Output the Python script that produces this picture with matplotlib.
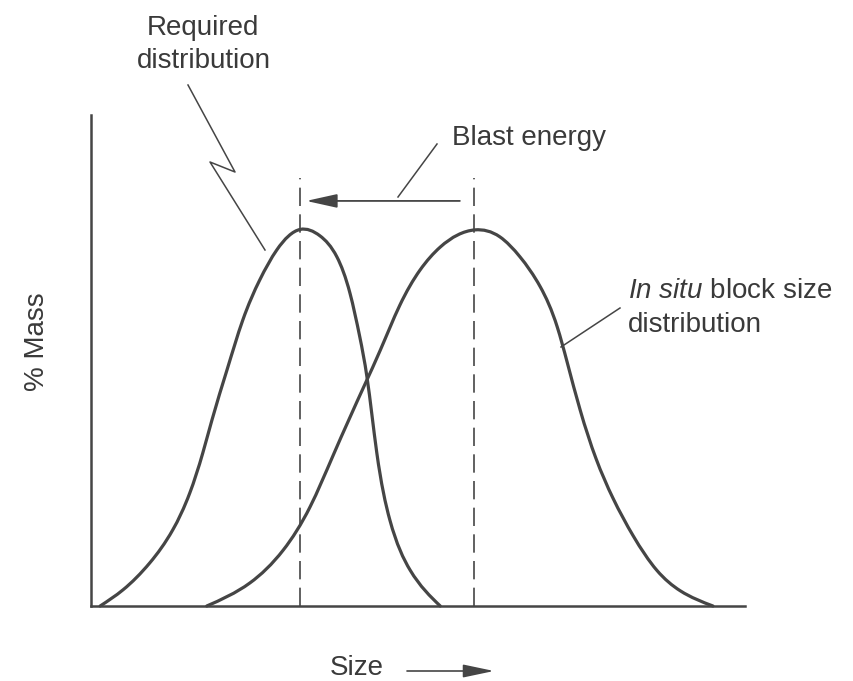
import matplotlib
matplotlib.use("Agg")
import matplotlib.pyplot as plt
from matplotlib.path import Path
from matplotlib.patches import PathPatch, FancyArrowPatch
import numpy as np

# ---------------- data (size units 0-100, % mass units 0-100) ----------------
req_size = [1.4, 4.9, 9.0, 12.5, 15.1, 17.1, 18.5, 20.8, 23.2, 25.8, 28.4, 32.0,
            35.0, 37.6, 39.6, 41.1, 42.2, 43.7, 45.7, 48.8, 53.4]
req_mass = [0.0, 3.3, 8.8, 15.5, 23.0, 31.2, 37.9, 48.1, 58.2, 66.4, 72.5, 76.7,
            75.4, 71.1, 63.7, 54.8, 46.6, 31.2, 17.5, 7.3, 0.0]

insitu_size = [17.7, 24.3, 29.4, 33.5, 37.0, 41.9, 44.2, 47.2, 50.3, 53.4, 58.7,
               62.5, 65.6, 68.7, 71.3, 72.8, 74.8, 77.2, 79.8, 82.9, 86.5,
               90.1, 95.1]
insitu_mass = [0.0, 4.7, 11.4, 20.2, 30.6, 45.2, 52.0, 61.2, 68.4, 73.1, 76.6,
               75.2, 71.1, 65.0, 56.8, 49.7, 39.9, 30.1, 22.0, 14.3, 7.3,
               3.1, 0.0]

peak_sizes = [32.0, 58.6]          # dashed modal-size markers
dash_top = 87.2
blast_arrow_y = 82.5
blast_from, blast_to = 56.4, 32.9

# ---------------- styling ----------------
W, H = 854, 681
INK = "#454545"
TXT = "#3a3a3a"
plt.rcParams["font.family"] = ["Liberation Sans", "DejaVu Sans"]
plt.rcParams["mathtext.fontset"] = "custom"
plt.rcParams["mathtext.it"] = "Liberation Sans:italic"
plt.rcParams["mathtext.rm"] = "Liberation Sans"

fig = plt.figure(figsize=(W / 100, H / 100), dpi=100)


def fx(px):
    return px / W


def fy(py):
    return 1 - py / H


# plot area (pixels): left 91, right 745, top 115, bottom 606
ax = fig.add_axes([fx(91), fy(606), (745 - 91) / W, (606 - 115) / H])
ax.set_xlim(0, 100)
ax.set_ylim(0, 100)
ax.set_xticks([])
ax.set_yticks([])
for s in ["top", "right"]:
    ax.spines[s].set_visible(False)
for s in ["left", "bottom"]:
    ax.spines[s].set_color(INK)
    ax.spines[s].set_linewidth(1.8)


def spline_path(xs, ys):
    """Natural cubic spline through the points, drawn as Bezier segments."""
    x = np.asarray(xs, float)
    y = np.asarray(ys, float)
    n = len(x)
    h = np.diff(x)
    A = np.zeros((n, n))
    b = np.zeros(n)
    A[0, 0] = A[-1, -1] = 1.0
    for k in range(1, n - 1):
        A[k, k - 1] = h[k - 1]
        A[k, k] = 2 * (h[k - 1] + h[k])
        A[k, k + 1] = h[k]
        b[k] = 6 * ((y[k + 1] - y[k]) / h[k] - (y[k] - y[k - 1]) / h[k - 1])
    M = np.linalg.solve(A, b)
    verts = [(x[0], y[0])]
    codes = [Path.MOVETO]
    for k in range(n - 1):
        s = (y[k + 1] - y[k]) / h[k]
        m0 = s - h[k] * (2 * M[k] + M[k + 1]) / 6
        m1 = s + h[k] * (M[k] + 2 * M[k + 1]) / 6
        t = h[k] / 3.0
        verts += [(x[k] + t, y[k] + m0 * t),
                  (x[k + 1] - t, y[k + 1] - m1 * t),
                  (x[k + 1], y[k + 1])]
        codes += [Path.CURVE4] * 3
    return Path(verts, codes)


for xs, ys in [(req_size, req_mass), (insitu_size, insitu_mass)]:
    ax.add_patch(PathPatch(spline_path(xs, ys), fill=False, edgecolor=INK,
                           lw=2.3, capstyle="round", joinstyle="round",
                           clip_on=False))

for xp in peak_sizes:
    ax.plot([xp, xp], [0, dash_top], color=INK, lw=1.2, dashes=(11, 5),
            clip_on=False)

# blast energy arrow
ax.annotate("", xy=(blast_to, blast_arrow_y), xytext=(blast_from, blast_arrow_y),
            arrowprops=dict(arrowstyle="-|>,head_length=1.9,head_width=0.42",
                            mutation_scale=10, color=INK, lw=1.3,
                            shrinkA=0, shrinkB=0))

# ---------------- leader lines (figure pixel layout) ----------------
def leader(points):
    xs = [fx(p[0]) for p in points]
    ys = [fy(p[1]) for p in points]
    fig.add_artist(plt.Line2D(xs, ys, transform=fig.transFigure, color=INK,
                              lw=1.1))


leader([(188, 85), (235, 172), (210, 162), (265, 250)])
leader([(398, 197), (437, 144)])
leader([(561, 347), (620, 308)])

# ---------------- texts ----------------
FS = 20
fig.text(fx(203), fy(35), "Required", ha="center", va="baseline",
         fontsize=FS, color=TXT)
fig.text(fx(204), fy(68), "distribution", ha="center", va="baseline",
         fontsize=FS, color=TXT)
fig.text(fx(452), fy(145), "Blast energy", ha="left", va="baseline",
         fontsize=FS, color=TXT)
fig.text(fx(628), fy(298), r"$\mathit{In\ situ}$ block size", ha="left",
         va="baseline", fontsize=FS, color=TXT)
fig.text(fx(628), fy(332), "distribution", ha="left", va="baseline",
         fontsize=FS, color=TXT)
fig.text(fx(37), fy(342), "% Mass", ha="center", va="center", rotation=90,
         fontsize=FS, color=TXT)
fig.text(fx(330), fy(681), "Size", ha="left", va="bottom",
         fontsize=FS, color=TXT)
fig.add_artist(FancyArrowPatch(
    (fx(407), fy(671)), (fx(494), fy(671)), transform=fig.transFigure,
    arrowstyle="-|>,head_length=19,head_width=4", mutation_scale=1,
    color=INK, lw=1.2, shrinkA=0, shrinkB=0))

fig.savefig("out.png", dpi=100, facecolor="white")
